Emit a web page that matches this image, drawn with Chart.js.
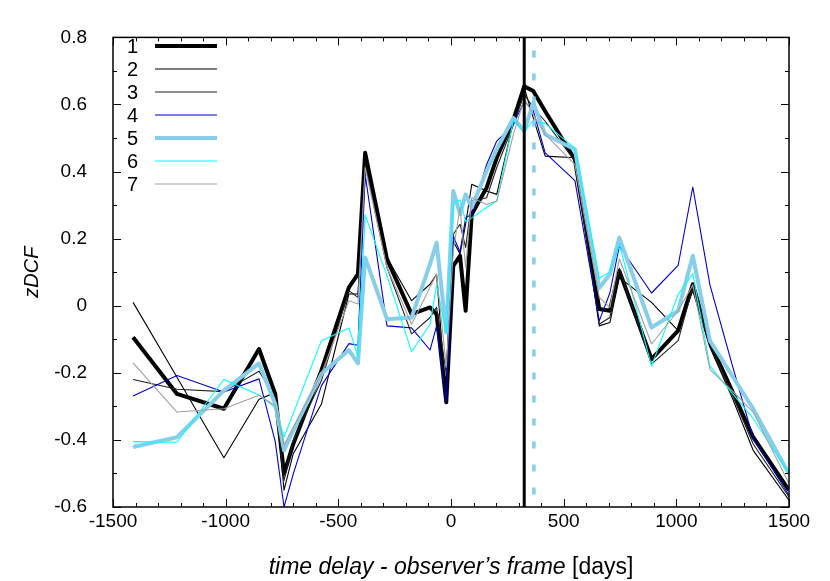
<!DOCTYPE html>
<html><head><meta charset="utf-8">
<script src="https://cdn.jsdelivr.net/npm/chart.js@4/dist/chart.umd.min.js"></script>
<style>html,body{margin:0;padding:0;background:#fff;}#wrap{width:830px;height:581px;}</style>
</head><body><div id="wrap"><canvas id="c" width="830" height="581"></canvas></div>
<script>
// time delay bins (days, observer's frame)
const lags = [-1411,-1216,-1008,-852,-780,-741,-700,-575,-453,-413,-381,-284,-175,-93,-64,-21,10,40,65,92,158,203,277,325,365,418,550,658,705,747,890,1008,1073,1149,1247,1341,1500];
// zDCF series
const s1 = [-0.094,-0.263,-0.307,-0.129,-0.263,-0.501,-0.412,-0.193,0.055,0.094,0.456,0.139,-0.025,-0.005,-0.025,-0.288,0.119,0.149,-0.015,0.273,0.352,0.441,0.555,0.654,0.640,0.580,0.436,-0.010,-0.015,0.104,-0.159,-0.074,0.064,-0.109,-0.253,-0.392,-0.550];
const s2 = [0.010,-0.213,-0.453,-0.279,-0.259,-0.550,-0.441,-0.293,0.035,0.035,0.431,0.144,0.015,0.064,0.094,-0.283,0.193,0.154,0.243,0.362,0.342,0.332,0.550,0.650,0.560,0.446,0.441,-0.060,-0.050,0.084,0.010,-0.074,0.045,-0.124,-0.273,-0.431,-0.580];
const s3 = [-0.220,-0.249,-0.256,-0.195,-0.273,-0.521,-0.402,-0.223,0.045,0.025,0.421,0.114,-0.084,-0.035,-0.005,-0.203,0.213,0.243,0.174,0.312,0.322,0.412,0.540,0.630,0.590,0.550,0.431,-0.055,-0.035,0.112,-0.174,-0.104,0.055,-0.114,-0.263,-0.412,-0.570];
const s4 = [-0.269,-0.208,-0.257,-0.218,-0.405,-0.600,-0.501,-0.238,-0.113,-0.118,0.392,-0.060,-0.066,-0.132,-0.060,-0.288,0.208,0.160,0.262,0.273,0.421,0.491,0.540,0.610,0.582,0.456,0.373,-0.045,0.038,0.178,0.038,0.120,0.354,0.062,-0.174,-0.395,-0.565];
const s5 = [-0.421,-0.392,-0.253,-0.172,-0.293,-0.431,-0.372,-0.203,-0.132,-0.172,0.144,-0.040,-0.035,0.124,0.188,-0.079,0.342,0.273,0.332,0.293,0.402,0.466,0.560,0.521,0.605,0.511,0.466,0.053,0.094,0.203,-0.065,-0.015,0.149,-0.104,-0.208,-0.307,-0.501];
const s6 = [-0.405,-0.407,-0.220,-0.266,-0.303,-0.392,-0.321,-0.104,-0.066,-0.151,0.271,0.089,-0.137,-0.055,0.062,-0.083,0.305,0.315,0.252,0.262,0.293,0.312,0.553,0.519,0.553,0.543,0.470,0.081,0.101,0.183,-0.180,0.033,0.096,-0.180,-0.260,-0.336,-0.501];
const s7 = [-0.170,-0.317,-0.307,-0.267,-0.298,-0.415,-0.362,-0.203,0.015,0.005,0.412,0.114,-0.055,0.055,0.094,-0.183,0.164,0.293,0.114,0.322,0.302,0.312,0.511,0.616,0.570,0.511,0.421,0.025,-0.005,0.140,-0.114,-0.015,0.062,-0.190,-0.253,-0.317,-0.530];
const seriesLabels = ['1','2','3','4','5','6','7'];
const xTickValues = [-1500,-1000,-500,0,500,1000,1500];
const yTickValues = [-0.6,-0.4,-0.2,0,0.2,0.4,0.6,0.8];
const solidMarkerLag = 325;
const dashedMarkerLag = 368;

const allSeries = [s1,s2,s3,s4,s5,s6,s7];
const colors = ['#000000','#000000','#202020','#0000c8','#87ceeb','#00ffff','#a0a0a0'];
const widths = [4,1.1,1.1,1.1,4,1.1,1.1];
const FONT = "'Liberation Sans', Arial, Helvetica, sans-serif";

const datasets = allSeries.map((ys,i)=>({
  label: seriesLabels[i],
  data: lags.map((x,j)=>({x:x,y:ys[j]})),
  showLine: true,
  borderColor: colors[i],
  backgroundColor: colors[i],
  borderWidth: widths[i],
  pointRadius: 0,
  pointHoverRadius: 0,
  tension: 0,
  borderJoinStyle: 'round',
  fill: false,
  order: 7 - i
}));

const decorPlugin = {
  id: 'decor',
  afterDatasetsDraw(chart){
    const ctx = chart.ctx, xs = chart.scales.x, ys = chart.scales.y, a = chart.chartArea;
    ctx.save();
    // marker lines
    ctx.beginPath();
    ctx.strokeStyle = '#000'; ctx.lineWidth = 3;
    const px1 = xs.getPixelForValue(solidMarkerLag);
    ctx.moveTo(px1, a.top); ctx.lineTo(px1, a.bottom); ctx.stroke();
    ctx.beginPath();
    ctx.strokeStyle = '#87ceeb'; ctx.lineWidth = 3.5;
    ctx.setLineDash([7,16]); ctx.lineDashOffset = 10;
    const px2 = xs.getPixelForValue(dashedMarkerLag);
    ctx.moveTo(px2, a.top); ctx.lineTo(px2, a.bottom); ctx.stroke();
    ctx.setLineDash([]);
    // frame
    ctx.strokeStyle = '#000'; ctx.lineWidth = 1.5;
    ctx.strokeRect(a.left, a.top, a.right - a.left, a.bottom - a.top);
    // ticks (inward, mirrored)
    ctx.lineWidth = 1;
    ctx.beginPath();
    for (let v = xs.min; v <= xs.max + 1e-9; v += 100) {
      const p = Math.round(xs.getPixelForValue(v)) + 0.5;
      const len = (Math.abs(v % 500) < 1e-6) ? 8 : 4;
      ctx.moveTo(p, a.bottom); ctx.lineTo(p, a.bottom - len);
      ctx.moveTo(p, a.top); ctx.lineTo(p, a.top + len);
    }
    for (let k = 0; k <= 14; k++) {
      const v = -0.6 + k * 0.1;
      const p = Math.round(ys.getPixelForValue(v)) + 0.5;
      const len = (k % 2 === 0) ? 8 : 4;
      ctx.moveTo(a.left, p); ctx.lineTo(a.left + len, p);
      ctx.moveTo(a.right, p); ctx.lineTo(a.right - len, p);
    }
    ctx.stroke();
    // legend
    ctx.font = '20px ' + FONT;
    ctx.textBaseline = 'middle';
    chart.data.datasets.forEach((d,i)=>{
      const y = 46 + i * 23;
      ctx.fillStyle = '#000';
      ctx.textAlign = 'right';
      ctx.fillText(d.label, 138, y + 1);
      ctx.beginPath();
      ctx.strokeStyle = d.borderColor;
      ctx.lineWidth = d.borderWidth < 2 ? 1.2 : 4;
      ctx.moveTo(155, y); ctx.lineTo(217, y); ctx.stroke();
    });
    // axis titles
    ctx.fillStyle = '#000';
    ctx.textBaseline = 'alphabetic';
    const t1 = 'time delay - observer\u2019s frame ', t2 = '[days]';
    ctx.font = 'italic 23px ' + FONT;
    const w1 = ctx.measureText(t1).width;
    ctx.font = '23px ' + FONT;
    const w2 = ctx.measureText(t2).width;
    const cx = (a.left + a.right) / 2;
    const x0 = cx - (w1 + w2) / 2;
    ctx.textAlign = 'left';
    ctx.font = 'italic 23px ' + FONT;
    ctx.fillText(t1, x0, 574);
    ctx.font = '23px ' + FONT;
    ctx.fillText(t2, x0 + w1, 574);
    ctx.save();
    ctx.translate(38, (a.top + a.bottom) / 2);
    ctx.rotate(-Math.PI / 2);
    ctx.textAlign = 'center';
    ctx.font = 'italic 20px ' + FONT;
    ctx.fillText('zDCF', 0, 0);
    ctx.restore();
    ctx.restore();
  }
};

new Chart(document.getElementById('c'), {
  type: 'scatter',
  data: { datasets },
  options: {
    responsive: false,
    devicePixelRatio: 1,
    animation: false,
    layout: { padding: { left: 0, top: 27, right: 41, bottom: 0 } },
    plugins: { legend: { display: false }, tooltip: { enabled: false } },
    scales: {
      x: {
        type: 'linear', min: -1500, max: 1500, position: 'bottom',
        grid: { display: false, drawTicks: false },
        border: { display: false },
        afterBuildTicks: s => { s.ticks = xTickValues.map(v => ({ value: v })); },
        ticks: { padding: 3, color: '#000', maxRotation: 0, autoSkip: false, font: { family: FONT, size: 19 },
                 callback: v => String(v) },
        afterFit: s => { s.height = 74; }
      },
      y: {
        type: 'linear', min: -0.6, max: 0.8, position: 'left',
        grid: { display: false, drawTicks: false },
        border: { display: false },
        afterBuildTicks: s => { s.ticks = yTickValues.map(v => ({ value: v })); },
        ticks: { padding: 26, color: '#000', autoSkip: false, font: { family: FONT, size: 19 },
                 callback: v => String(Number(v.toFixed(1))) },
        afterFit: s => { s.width = 113; }
      }
    }
  },
  plugins: [decorPlugin]
});
</script></body></html>
